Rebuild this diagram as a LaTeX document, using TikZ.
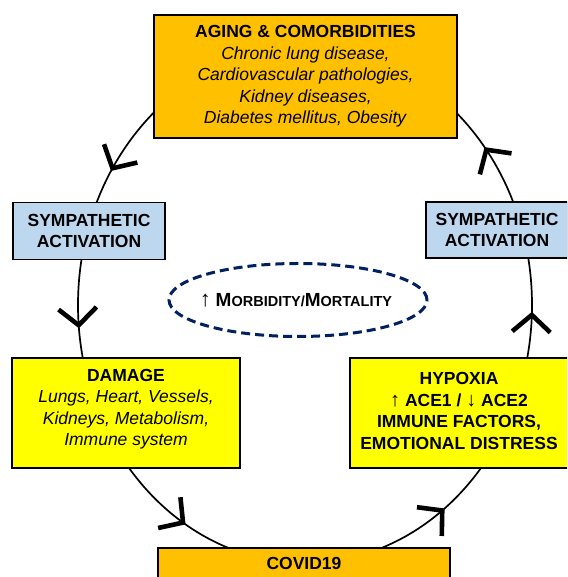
\documentclass[tikz,border=0pt]{standalone}
\usepackage{fontspec}
\setmainfont{Liberation Sans}
\definecolor{orng}{HTML}{FFC000}
\definecolor{ylw}{HTML}{FFFF00}
\definecolor{lblue}{HTML}{BDD7EE}
\definecolor{navy}{HTML}{002060}
\newcommand\chevat[1]{%
  \pgfmathsetmacro\chang{atan2(258*cos(#1),-227*sin(#1))}%
  \pgfmathsetmacro\chx{305+227*cos(#1)}%
  \pgfmathsetmacro\chy{272+258*sin(#1)}%
  \begin{scope}[shift={(\chx,\chy)}, rotate=\chang]
    \draw[chev] (-17,19) -- (0,0) -- (-17,-19);
  \end{scope}}
\begin{document}
\begin{tikzpicture}[x=1pt,y=1pt,
  box/.style={draw=black, line width=1.8pt, align=center, inner sep=0pt,
    font=\fontsize{17.5}{21.5}\selectfont},
  txt/.style={align=center, inner sep=0pt, font=\fontsize{17.5}{21.5}\selectfont},
  chev/.style={line width=4.6pt, line join=miter, line cap=butt},
  cyc/.style={line width=1.7pt},
  dashring/.style={draw=navy, line width=3pt, dash pattern=on 9pt off 5pt}]
\clip (0,0) rectangle (567,577);
\fill[white] (0,0) rectangle (567,577);
\coordinate (c) at (305,272);
\draw[cyc] (c) ellipse [x radius=227pt, y radius=258pt];
\chevat{148}
\chevat{37}
\chevat{184.5}
\chevat{357.8}
\chevat{237.5}
\chevat{307.2}
\node[box, fill=orng, minimum width=303pt, minimum height=123pt] (top) at (305.5,500.5)
  {\textbf{AGING \& COMORBIDITIES}\\ \textit{Chronic lung disease,}\\ \textit{Cardiovascular pathologies,}\\ \textit{Kidney diseases,}\\ \textit{Diabetes mellitus, Obesity}};
\node[box, fill=lblue, minimum width=152pt, minimum height=57pt] (symL) at (89,346)
  {\textbf{SYMPATHETIC}\\ \textbf{ACTIVATION}};
\node[box, fill=lblue, minimum width=142pt, minimum height=56pt] (symR) at (497,347)
  {\textbf{SYMPATHETIC}\\ \textbf{ACTIVATION}};
\node[txt] (mm) at (296,277)
  {{\fontsize{22}{22}\selectfont ↑} \textbf{{\fontsize{19}{20}\selectfont M}{\fontsize{14.5}{20}\selectfont ORBIDITY/}{\fontsize{19}{20}\selectfont M}{\fontsize{14.5}{20}\selectfont ORTALITY}}};
\draw[dashring] (298,277) ellipse [x radius=129pt, y radius=36.5pt];
\node[box, fill=ylw, minimum width=228pt, minimum height=110pt] (dmg) at (126,164) {};
\node[txt] (dmgt) at ([yshift=4pt]dmg.center)
  {\textbf{DAMAGE}\\ \textit{Lungs, Heart, Vessels,}\\ \textit{Kidneys, Metabolism,}\\ \textit{Immune system}};
\node[box, fill=ylw, minimum width=220pt, minimum height=110pt] (hyp) at (460,164) {};
\node[txt, font=\fontsize{17.5}{21.5}\selectfont\bfseries] (hypt) at ([xshift=-1pt,yshift=2pt]hyp.center)
  {HYPOXIA\\ {\fontsize{20}{21.5}\selectfont ↑} ACE1 / {\fontsize{20}{21.5}\selectfont ↓} ACE2\\ IMMUNE FACTORS,\\ EMOTIONAL DISTRESS};
\node[box, fill=orng, minimum width=292pt, minimum height=45pt, anchor=north] (cov) at (304,30) {};
\node[txt] (covt) at (304,14) {\textbf{COVID19}};
\end{tikzpicture}
\end{document}
